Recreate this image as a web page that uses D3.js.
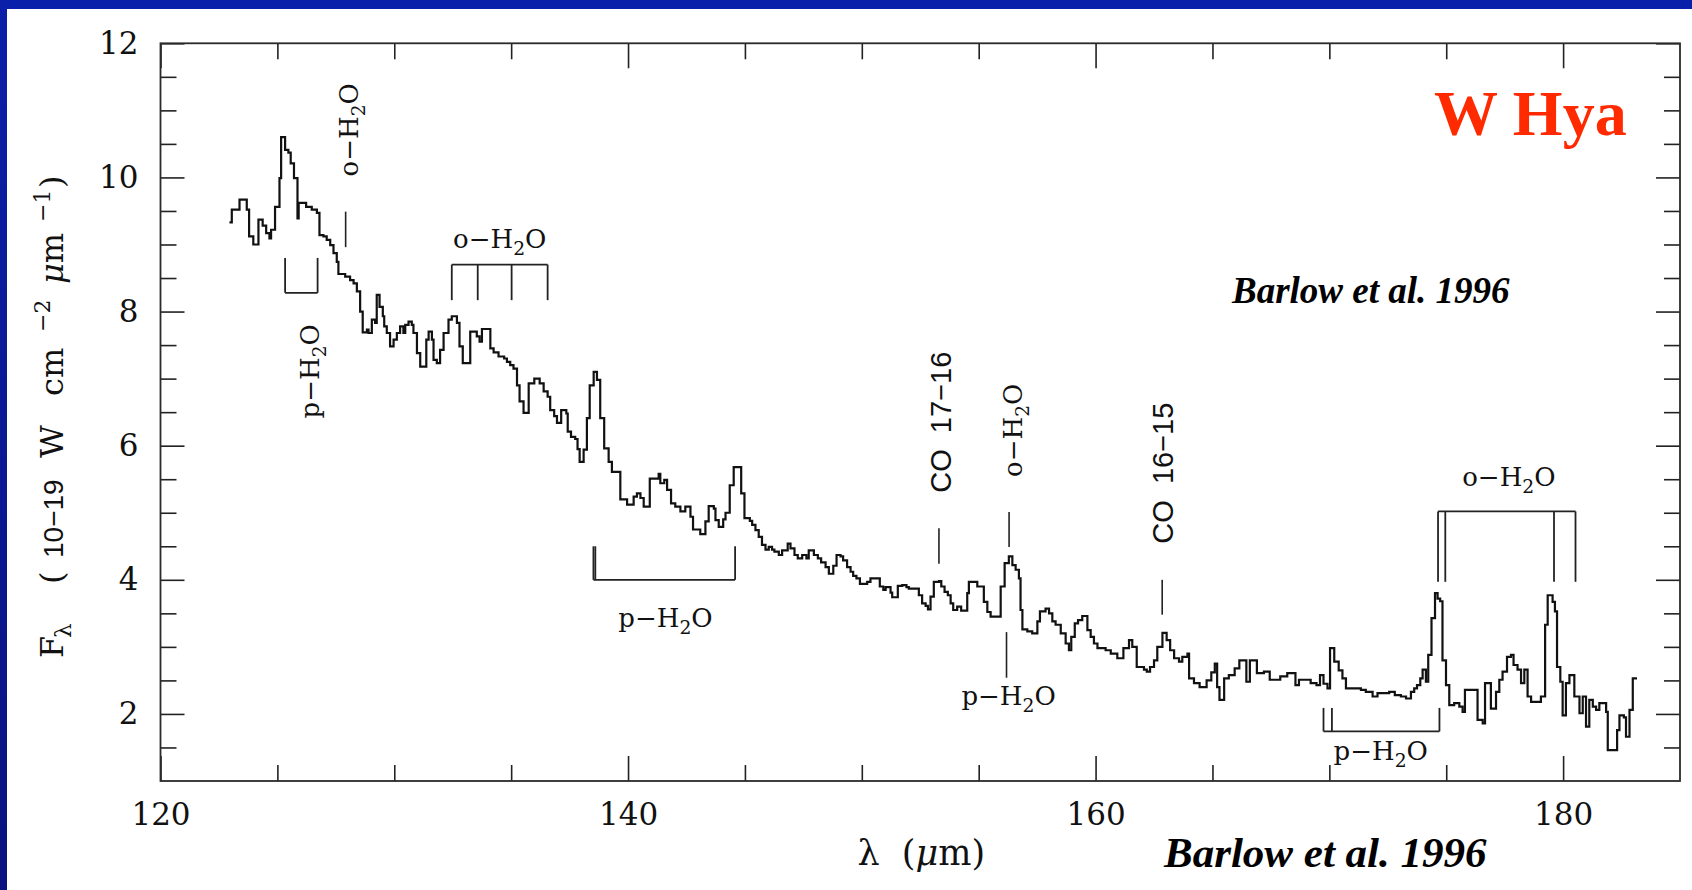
<!DOCTYPE html>
<html lang="en">
<head>
<meta charset="UTF-8">
<title>W Hya LWS spectrum</title>
<style>
  body { margin: 0; background: #fff; }
  svg { display: block; }
  .axis text { font-family: "DejaVu Serif", serif; font-size: 31px; fill: #111; }
  .axis line { stroke: #222; stroke-width: 1.6px; }
  .axis path { display: none; }
  .ann { font-family: "DejaVu Serif", serif; font-size: 26px; fill: #111; }
  .co { font-family: "Liberation Sans", Arial, sans-serif; font-size: 29px; fill: #111; white-space: pre; }
  .ylab { font-family: "DejaVu Serif", serif; font-size: 32px; fill: #111; }
</style>
</head>
<body>
<div id="chart"></div>
<script src="https://d3js.org/d3.v7.min.js"></script>
<script>

// spectrum: left edge of each bin (micron) and flux (1e-19 W cm^-2 um^-1)
const lambdaEdges = [
  122.95,123.05,123.38,123.69,123.79,123.97,124.19,124.37,124.52,124.66,124.73,124.90,125.09,125.16,125.33,125.47,125.57,125.71,125.86,125.91,
  126.23,126.47,126.69,126.80,126.97,127.11,127.26,127.40,127.54,127.61,127.90,128.11,128.26,128.40,128.54,128.65,128.83,128.90,129.04,129.18,
  129.25,129.37,129.51,129.57,129.68,129.82,129.97,130.11,130.25,130.39,130.47,130.61,130.75,130.82,130.97,131.11,131.37,131.47,131.61,131.68,
  131.82,131.96,132.11,132.32,132.46,132.68,132.79,132.93,133.25,133.53,133.65,133.75,134.11,134.25,134.46,134.70,134.82,134.96,135.10,135.25,
  135.36,135.53,135.75,135.99,136.22,136.39,136.56,136.67,136.84,136.96,137.14,137.36,137.42,137.56,137.74,137.84,137.93,138.10,138.24,138.36,
  138.53,138.67,138.81,138.98,139.17,139.31,139.67,139.96,140.24,140.38,140.53,140.67,140.93,141.31,141.38,141.55,141.67,141.84,142.02,142.24,
  142.45,142.67,142.78,143.09,143.31,143.45,143.67,143.74,143.88,144.07,144.17,144.35,144.52,144.84,144.98,145.21,145.31,145.45,145.59,145.73,
  145.88,146.02,146.16,146.26,146.45,146.59,146.83,146.95,147.12,147.26,147.45,147.63,147.73,147.95,148.12,148.26,148.45,148.59,148.78,148.92,
  149.09,149.20,149.37,149.52,149.63,149.77,149.92,150.23,150.37,150.77,150.92,151.02,151.23,151.30,151.54,151.73,151.91,152.01,152.44,152.58,
  152.73,152.83,152.94,153.08,153.30,153.40,153.54,153.68,153.80,153.91,154.08,154.25,154.51,154.58,154.94,155.22,155.37,155.51,155.94,156.11,
  156.29,156.44,156.58,156.72,156.79,156.87,157.08,157.29,157.51,157.62,157.86,158.01,158.15,158.29,158.51,158.72,158.86,158.96,159.11,159.25,
  159.43,159.65,159.79,159.93,160.08,160.43,160.65,160.93,161.19,161.43,161.57,161.76,162.07,162.19,162.33,162.50,162.64,162.86,163.04,163.19,
  163.36,163.57,163.71,163.93,164.00,164.21,164.45,164.75,164.95,165.10,165.20,165.30,165.50,165.70,165.95,166.15,166.45,166.60,166.90,167.20,
  167.45,167.90,168.20,168.55,168.70,169.20,169.45,169.60,169.75,169.92,170.03,170.21,170.40,170.56,170.71,171.13,171.35,171.56,171.85,172.06,
  172.56,172.80,173.06,173.28,173.49,173.63,173.75,173.89,173.99,174.13,174.23,174.37,174.52,174.63,174.74,174.84,174.99,175.13,175.34,175.56,
  175.70,175.80,176.09,176.34,176.56,176.66,176.91,177.13,177.27,177.41,177.60,177.77,177.88,178.05,178.20,178.34,178.48,178.63,179.05,179.23,
  179.34,179.55,179.65,179.74,179.88,179.98,180.12,180.27,180.48,180.70,180.84,180.98,181.12,181.27,181.41,181.55,181.84,181.91,182.19,182.31,
  182.41,182.60,182.69,182.84,182.98
];
const lambdaEnd = 183.16;
const flux = [
  9.33,9.52,9.67,9.52,9.12,9.00,9.37,9.28,9.17,9.09,9.22,9.56,9.99,10.60,10.41,10.37,10.21,9.99,9.39,9.62,
  9.56,9.52,9.47,9.14,9.12,9.07,8.99,8.87,8.74,8.56,8.52,8.47,8.42,8.30,8.00,7.69,7.73,7.68,7.88,7.83,
  8.25,8.07,7.93,7.78,7.68,7.48,7.58,7.68,7.78,7.68,7.80,7.85,7.80,7.68,7.38,7.18,7.58,7.70,7.58,7.28,
  7.23,7.43,7.68,7.88,7.93,7.83,7.48,7.23,7.70,7.63,7.55,7.74,7.45,7.39,7.33,7.30,7.25,7.20,7.15,6.90,
  6.66,6.49,6.93,7.00,6.93,6.81,6.73,6.53,6.44,6.34,6.53,6.48,6.21,6.13,6.10,5.95,5.76,5.94,6.41,6.90,
  7.10,6.98,6.41,5.96,5.76,5.61,5.20,5.12,5.24,5.29,5.22,5.09,5.51,5.58,5.44,5.49,5.34,5.14,5.09,5.02,
  5.09,4.94,4.75,4.68,4.87,5.10,5.06,4.89,4.79,4.90,5.00,5.41,5.68,5.29,4.92,4.88,4.82,4.74,4.64,4.52,
  4.45,4.49,4.45,4.42,4.37,4.44,4.54,4.47,4.37,4.32,4.37,4.32,4.44,4.37,4.32,4.26,4.19,4.09,4.21,4.37,
  4.35,4.29,4.19,4.12,4.06,4.02,3.94,3.97,4.02,3.90,3.85,3.89,3.81,3.74,3.91,3.92,3.89,3.87,3.77,3.65,
  3.61,3.56,3.75,3.97,3.98,3.90,3.82,3.77,3.65,3.55,3.60,3.54,3.80,3.97,3.90,3.67,3.52,3.45,3.90,4.25,
  4.35,4.22,4.15,4.02,3.55,3.26,3.23,3.20,3.38,3.53,3.57,3.50,3.38,3.33,3.20,3.05,2.95,3.15,3.35,3.40,
  3.46,3.25,3.15,3.05,2.98,2.95,2.90,2.83,2.98,3.10,3.00,2.70,2.66,2.63,2.70,2.80,3.00,3.21,3.10,2.95,
  2.83,2.78,2.85,2.90,2.53,2.46,2.40,2.50,2.62,2.75,2.40,2.21,2.53,2.58,2.68,2.80,2.48,2.80,2.61,2.63,
  2.51,2.56,2.61,2.43,2.51,2.46,2.43,2.58,2.45,2.38,2.98,2.78,2.65,2.53,2.38,2.38,2.36,2.33,2.26,2.31,
  2.33,2.28,2.26,2.23,2.33,2.38,2.43,2.53,2.66,2.48,2.88,3.43,3.80,3.72,3.68,2.80,2.43,2.13,2.16,2.11,
  2.03,2.36,2.36,1.91,1.86,2.46,2.08,2.33,2.51,2.63,2.85,2.88,2.73,2.66,2.46,2.66,2.26,2.18,2.26,3.33,
  3.77,3.67,3.53,2.70,2.48,1.98,2.46,2.58,2.26,2.01,2.26,1.81,2.21,2.11,2.06,2.16,2.03,1.46,1.46,1.76,
  1.98,1.95,1.66,2.06,2.53
];

// axis ticks
const xLabelTicks = [120, 140, 160, 180];
const xMinorTicks = [125, 130, 135, 145, 150, 155, 165, 170, 175];
const yLabelTicks = [2, 4, 6, 8, 10, 12];
const yMinorTicks = [1.5, 2.5, 3, 3.5, 4.5, 5, 5.5, 6.5, 7, 7.5, 8.5, 9, 9.5, 10.5, 11, 11.5];

// single line markers (wavelength, flux range)
const markLambda = [127.92, 153.30, 156.30, 156.19, 162.85];
const markLow    = [8.96, 4.24, 4.49, 2.54, 3.48];
const markHigh   = [9.49, 4.77, 5.01, 3.22, 4.00];

// bracket / comb markers
const bracketLegs = [[125.33, 126.72], [132.46, 133.57, 135.02, 136.56], [138.52, 138.60, 144.58],
                     [174.65, 174.96, 179.61, 180.53], [169.75, 170.11, 174.71]];
const bracketHigh = [8.80, 8.70, 4.50, 5.02, 2.09];
const bracketLow  = [8.28, 8.17, 4.00, 3.97, 1.74];
const bracketBar  = ["low", "high", "low", "high", "low"];

// species labels: horizontal ones (centre wavelength, baseline flux)
const hLabelText   = ["o", "p", "p", "o", "p"];
const hLabelLambda = [134.51, 141.60, 156.28, 177.68, 172.20];
const hLabelFlux   = [8.95, 3.30, 2.13, 5.40, 1.31];
// vertical ones (baseline wavelength, centre flux)
const vLabelText   = ["o-H2O", "p-H2O", "CO  17\u221216", "o-H2O", "CO  16\u221215"];
const vLabelLambda = [128.45, 126.79, 153.80, 156.84, 163.30];
const vLabelFlux   = [10.71, 7.11, 6.35, 6.23, 5.59];

const w = 1692, h = 890;
const margin = {top: 43.3, right: 12, bottom: 109, left: 160.5};

const svg = d3.select("#chart").append("svg")
  .attr("width", w)
  .attr("height", h);

// slide frame
const grad = svg.append("defs").append("linearGradient")
  .attr("id", "side").attr("x1", 0).attr("x2", 0).attr("y1", 0).attr("y2", 1);
grad.append("stop").attr("offset", "0%").attr("stop-color", "#0b1fa8");
grad.append("stop").attr("offset", "100%").attr("stop-color", "#08137f");
svg.append("rect").attr("width", w).attr("height", h).attr("fill", "#fff");
svg.append("rect").attr("width", w).attr("height", 9).attr("fill", "#0820aa");
svg.append("rect").attr("width", 7).attr("height", h).attr("fill", "url(#side)");

const x = d3.scaleLinear().domain([120, 185]).range([margin.left, w - margin.right]);
const y = d3.scaleLinear().domain([1, 12]).range([h - margin.bottom, margin.top]);

// axes, ticks pointing inwards
const plot = svg.append("g");

function addAxis(axisFn, scale, values, size, labels, transform) {
  const ax = axisFn(scale).tickValues(values).tickSize(-size).tickPadding(labels ? 22 : 0);
  if (!labels) ax.tickFormat("");
  plot.append("g").attr("class", "axis").attr("transform", transform).call(ax);
}
const bottomY = y(1), topY = y(12), leftX = x(120), rightX = x(185);
addAxis(d3.axisBottom, x, xLabelTicks, 25, true, `translate(0,${bottomY})`);
addAxis(d3.axisBottom, x, xMinorTicks, 16, false, `translate(0,${bottomY})`);
addAxis(d3.axisTop, x, xLabelTicks, 25, false, `translate(0,${topY})`);
addAxis(d3.axisTop, x, xMinorTicks, 16, false, `translate(0,${topY})`);
addAxis(d3.axisLeft, y, yLabelTicks, 24, true, `translate(${leftX},0)`);
addAxis(d3.axisLeft, y, yMinorTicks, 16, false, `translate(${leftX},0)`);
addAxis(d3.axisRight, y, yLabelTicks, 24, false, `translate(${rightX},0)`);
addAxis(d3.axisRight, y, yMinorTicks, 16, false, `translate(${rightX},0)`);

plot.append("rect")
  .attr("x", leftX).attr("y", topY)
  .attr("width", rightX - leftX).attr("height", bottomY - topY)
  .attr("fill", "none").attr("stroke", "#2a2a2a").attr("stroke-width", 1.8);

// spectrum as a histogram
const pts = lambdaEdges.map((l, i) => [l, flux[i]]);
pts.push([lambdaEnd, flux[flux.length - 1]]);
const line = d3.line().x(d => x(d[0])).y(d => y(d[1])).curve(d3.curveStepAfter);
plot.append("path")
  .attr("d", line(pts))
  .attr("fill", "none")
  .attr("stroke", "#111")
  .attr("stroke-width", 2.2);

// line markers
plot.selectAll("line.mark")
  .data(markLambda)
  .join("line")
  .attr("class", "mark")
  .attr("x1", d => x(d)).attr("x2", d => x(d))
  .attr("y1", (d, i) => y(markLow[i])).attr("y2", (d, i) => y(markHigh[i]))
  .attr("stroke", "#222").attr("stroke-width", 1.6);

bracketLegs.forEach((legs, i) => {
  const g = plot.append("g").attr("stroke", "#222").attr("stroke-width", 1.8).attr("fill", "none");
  legs.forEach(l => {
    g.append("line")
      .attr("x1", x(l)).attr("x2", x(l))
      .attr("y1", y(bracketLow[i])).attr("y2", y(bracketHigh[i]));
  });
  const barF = bracketBar[i] === "high" ? bracketHigh[i] : bracketLow[i];
  g.append("line")
    .attr("x1", x(d3.min(legs))).attr("x2", x(d3.max(legs)))
    .attr("y1", y(barF)).attr("y2", y(barF));
});

// water label with subscript
function water(sel, prefix) {
  sel.append("tspan").text(prefix + "\u2212H");
  sel.append("tspan").attr("font-size", "0.72em").attr("dy", 7).text("2");
  sel.append("tspan").attr("dy", -7).text("O");
}

hLabelText.forEach((p, i) => {
  const t = plot.append("text").attr("class", "ann")
    .attr("x", x(hLabelLambda[i])).attr("y", y(hLabelFlux[i]))
    .attr("text-anchor", "middle");
  water(t, p);
});

vLabelText.forEach((s, i) => {
  const isCO = s.startsWith("CO");
  const t = plot.append("text")
    .attr("class", isCO ? "co" : "ann")
    .attr("text-anchor", "middle")
    .attr("transform", `translate(${x(vLabelLambda[i])},${y(vLabelFlux[i])}) rotate(-90)`);
  if (isCO) t.text(s);
  else water(t, s[0]);
});

// axis titles
svg.append("text")
  .attr("class", "ylab")
  .attr("x", (leftX + rightX) / 2 + 1).attr("y", 865)
  .attr("text-anchor", "middle")
  .style("white-space", "pre")
  .style("font-size", "35px")
  .html('\u03bb  (<tspan font-style="italic">\u03bc</tspan>m)');

const yl = svg.append("g").attr("transform", "translate(63,412) rotate(-90)");
const ylPieces = [
  {t: "F", x: -246},
  {t: "\u03bb", x: -226, dy: 8, size: 23},
  {t: "(", x: -172},
  {t: "10\u221219", x: -146, sans: true, size: 28},
  {t: "W", x: -46},
  {t: "cm", x: 16},
  {t: "\u22122", x: 80, dy: -13, size: 22},
  {t: "\u03bcm", x: 128, italicFirst: true},
  {t: "\u22121", x: 190, dy: -13, size: 22},
  {t: ")", x: 224}
];
ylPieces.forEach(p => {
  const t = yl.append("text").attr("class", "ylab")
    .attr("x", p.x).attr("y", p.dy || 0);
  if (p.size) t.style("font-size", p.size + "px");
  if (p.sans) t.style("font-family", '"Liberation Sans", Arial, sans-serif');
  if (p.italicFirst) {
    t.append("tspan").attr("font-style", "italic").text(p.t[0]);
    t.append("tspan").text(p.t.slice(1));
  } else {
    t.text(p.t);
  }
});

// titles and credits
svg.append("text")
  .attr("x", 1434).attr("y", 135)
  .style("font-family", '"Liberation Serif", "Times New Roman", serif')
  .style("font-weight", "bold").style("font-size", "64px")
  .attr("fill", "#ff2a00")
  .text("W Hya");

svg.append("text")
  .attr("x", 1232).attr("y", 303)
  .style("font-family", '"Liberation Serif", "Times New Roman", serif')
  .style("font-weight", "bold").style("font-style", "italic").style("font-size", "37px")
  .attr("fill", "#000")
  .text("Barlow et al. 1996");

svg.append("text")
  .attr("x", 1164).attr("y", 867)
  .style("font-family", '"Liberation Serif", "Times New Roman", serif')
  .style("font-weight", "bold").style("font-style", "italic").style("font-size", "43px")
  .attr("fill", "#000")
  .text("Barlow et al. 1996");

</script>
</body>
</html>
